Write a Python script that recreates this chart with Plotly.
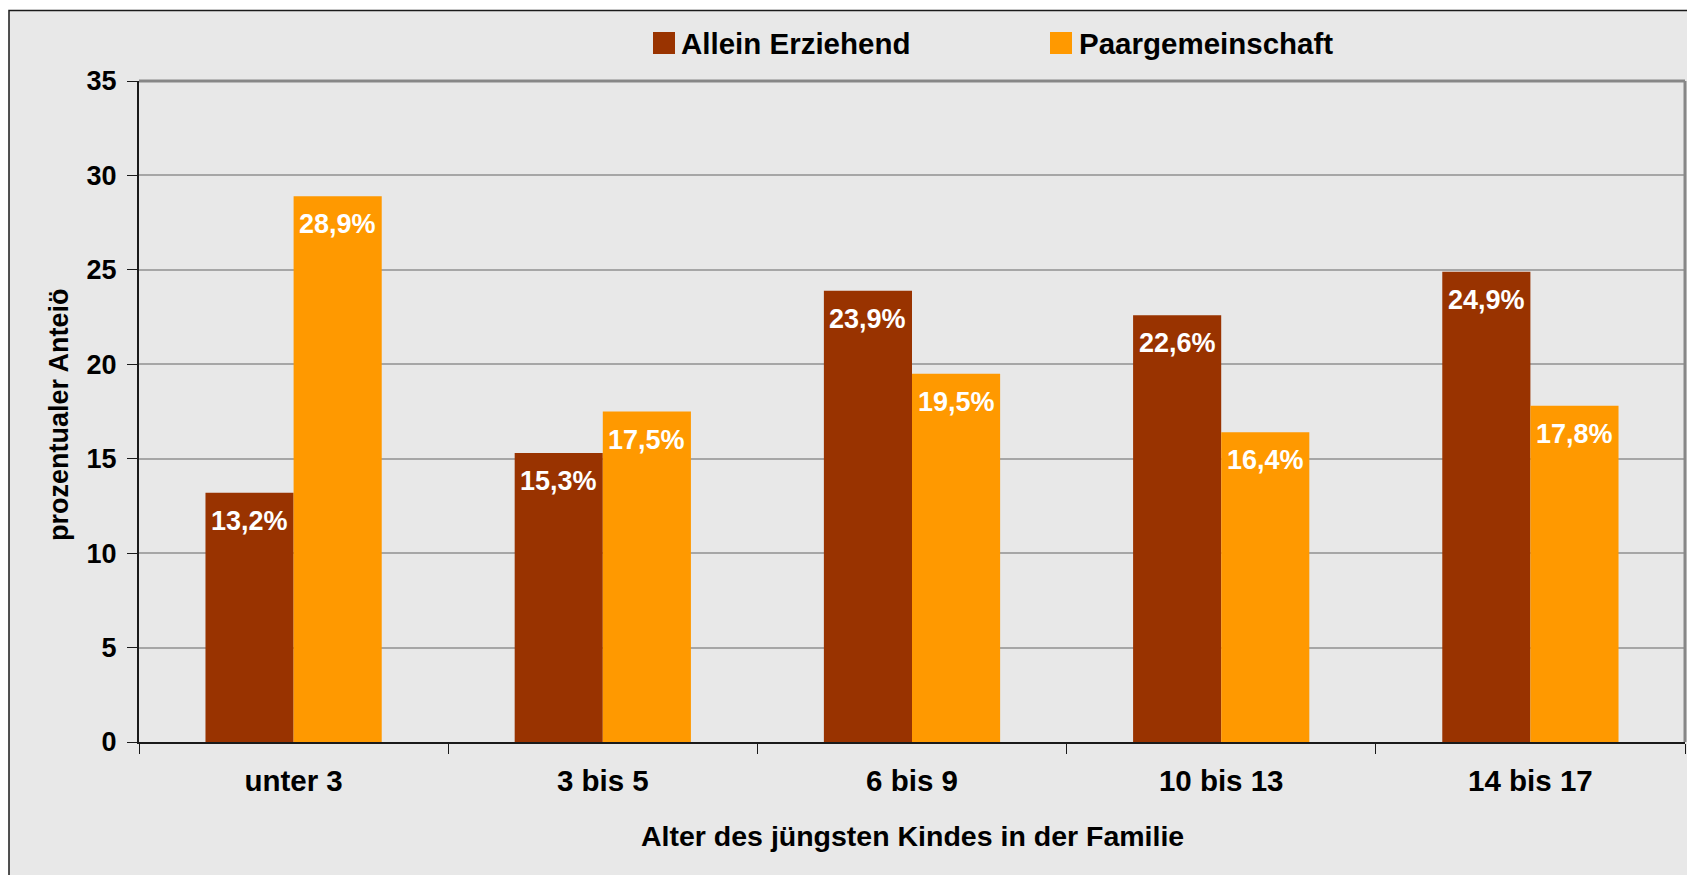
import plotly.graph_objects as go

categories = ["unter 3", "3 bis 5", "6 bis 9", "10 bis 13", "14 bis 17"]
allein = [13.2, 15.3, 23.9, 22.6, 24.9]
paar = [28.9, 17.5, 19.5, 16.4, 17.8]
series_names = ["Allein Erziehend", "Paargemeinschaft"]
y_title = "prozentualer Anteiö"
x_title = "Alter des jüngsten Kindes in der Familie"

OFF = 8  # page offset of the figure inside the browser body
W, H = 1695 - OFF, 875 - OFF
# plot area in page pixels
L, R, T, B = 139, 1685, 81, 742
PW, PH = R - L, B - T
BARGAP = 0.43


def px(xp):
    return (xp - L) / PW


def py(yp):
    return (B - yp) / PH


BROWN = "#993300"
ORANGE = "#FF9900"
FONT = "Liberation Sans"


def f(size, color="black"):
    return dict(family=FONT, size=size, color=color, weight="bold")


fig = go.Figure()
for name, vals, col in [(series_names[0], allein, BROWN), (series_names[1], paar, ORANGE)]:
    fig.add_trace(go.Bar(
        x=categories, y=vals, name=name, marker=dict(color=col, line=dict(width=0)),
        showlegend=False, hoverinfo="x+y",
    ))

bar_px = PW / len(categories) * (1 - BARGAP) / 2
annotations = []
for vals, sh in [(allein, -bar_px / 2), (paar, bar_px / 2)]:
    for c, v in zip(categories, vals):
        annotations.append(dict(
            x=c, y=v, xref="x", yref="y", text=f"{v:.1f}%".replace(".", ","),
            xanchor="center", yanchor="top", xshift=sh, yshift=-11, showarrow=False,
            font=f(27, "white")))

shapes = [
    dict(type="rect", xref="paper", yref="paper", x0=px(9), x1=px(1720), y0=py(10.5), y1=py(900),
         fillcolor="#E8E8E8", line=dict(color="#1a1a1a", width=1.5), layer="below"),
    dict(type="line", xref="paper", yref="paper", x0=1, x1=1, y0=0, y1=1,
         line=dict(color="#878787", width=3), layer="above"),
    dict(type="line", xref="paper", yref="paper", x0=0, x1=1, y0=1, y1=1,
         line=dict(color="#878787", width=3), layer="above"),
    dict(type="rect", xref="paper", yref="paper", x0=px(653), x1=px(675), y0=py(54), y1=py(32),
         fillcolor=BROWN, line=dict(width=0)),
    dict(type="rect", xref="paper", yref="paper", x0=px(1050), x1=px(1072), y0=py(54), y1=py(32),
         fillcolor=ORANGE, line=dict(width=0)),
]

annotations += [
    dict(text=series_names[0], xref="paper", yref="paper", x=px(679), y=py(43),
         xanchor="left", yanchor="middle", showarrow=False, font=f(29.5)),
    dict(text=series_names[1], xref="paper", yref="paper", x=px(1077), y=py(43),
         xanchor="left", yanchor="middle", showarrow=False, font=f(29.5)),
    dict(text=y_title, xref="paper", yref="paper", x=px(59), y=py(415), textangle=-90,
         xanchor="center", yanchor="middle", showarrow=False, font=f(27)),
    dict(text=x_title, xref="paper", yref="paper", x=0.5, y=py(836),
         xanchor="center", yanchor="middle", showarrow=False, font=f(28.5)),
]

fig.update_layout(
    width=W, height=H,
    margin=dict(l=L - OFF, r=W - (R - OFF), t=T - OFF, b=H - (B - OFF), pad=0),
    paper_bgcolor="white", plot_bgcolor="white",
    barmode="group", bargap=BARGAP, bargroupgap=0,
    separators=",.",
    shapes=shapes, annotations=annotations,
    showlegend=False,
    font=dict(family=FONT, size=27, color="black"),
)
fig.update_xaxes(
    showline=True, linecolor="#1a1a1a", linewidth=2,
    ticks="outside", tickson="boundaries", ticklen=10, tickcolor="#1a1a1a", tickwidth=1,
    ticklabelstandoff=12,
    tickfont=f(29.5),
    showgrid=False,
)
fig.update_yaxes(
    range=[0, 35], dtick=5, tick0=0,
    showline=True, linecolor="#1a1a1a", linewidth=2,
    ticks="outside", ticklen=10, tickcolor="#1a1a1a", tickwidth=1,
    ticklabelstandoff=5,
    tickfont=f(27),
    showgrid=True, gridcolor="#A6A6A6", gridwidth=2,
    zeroline=False,
)

fig.write_html("out.html")
